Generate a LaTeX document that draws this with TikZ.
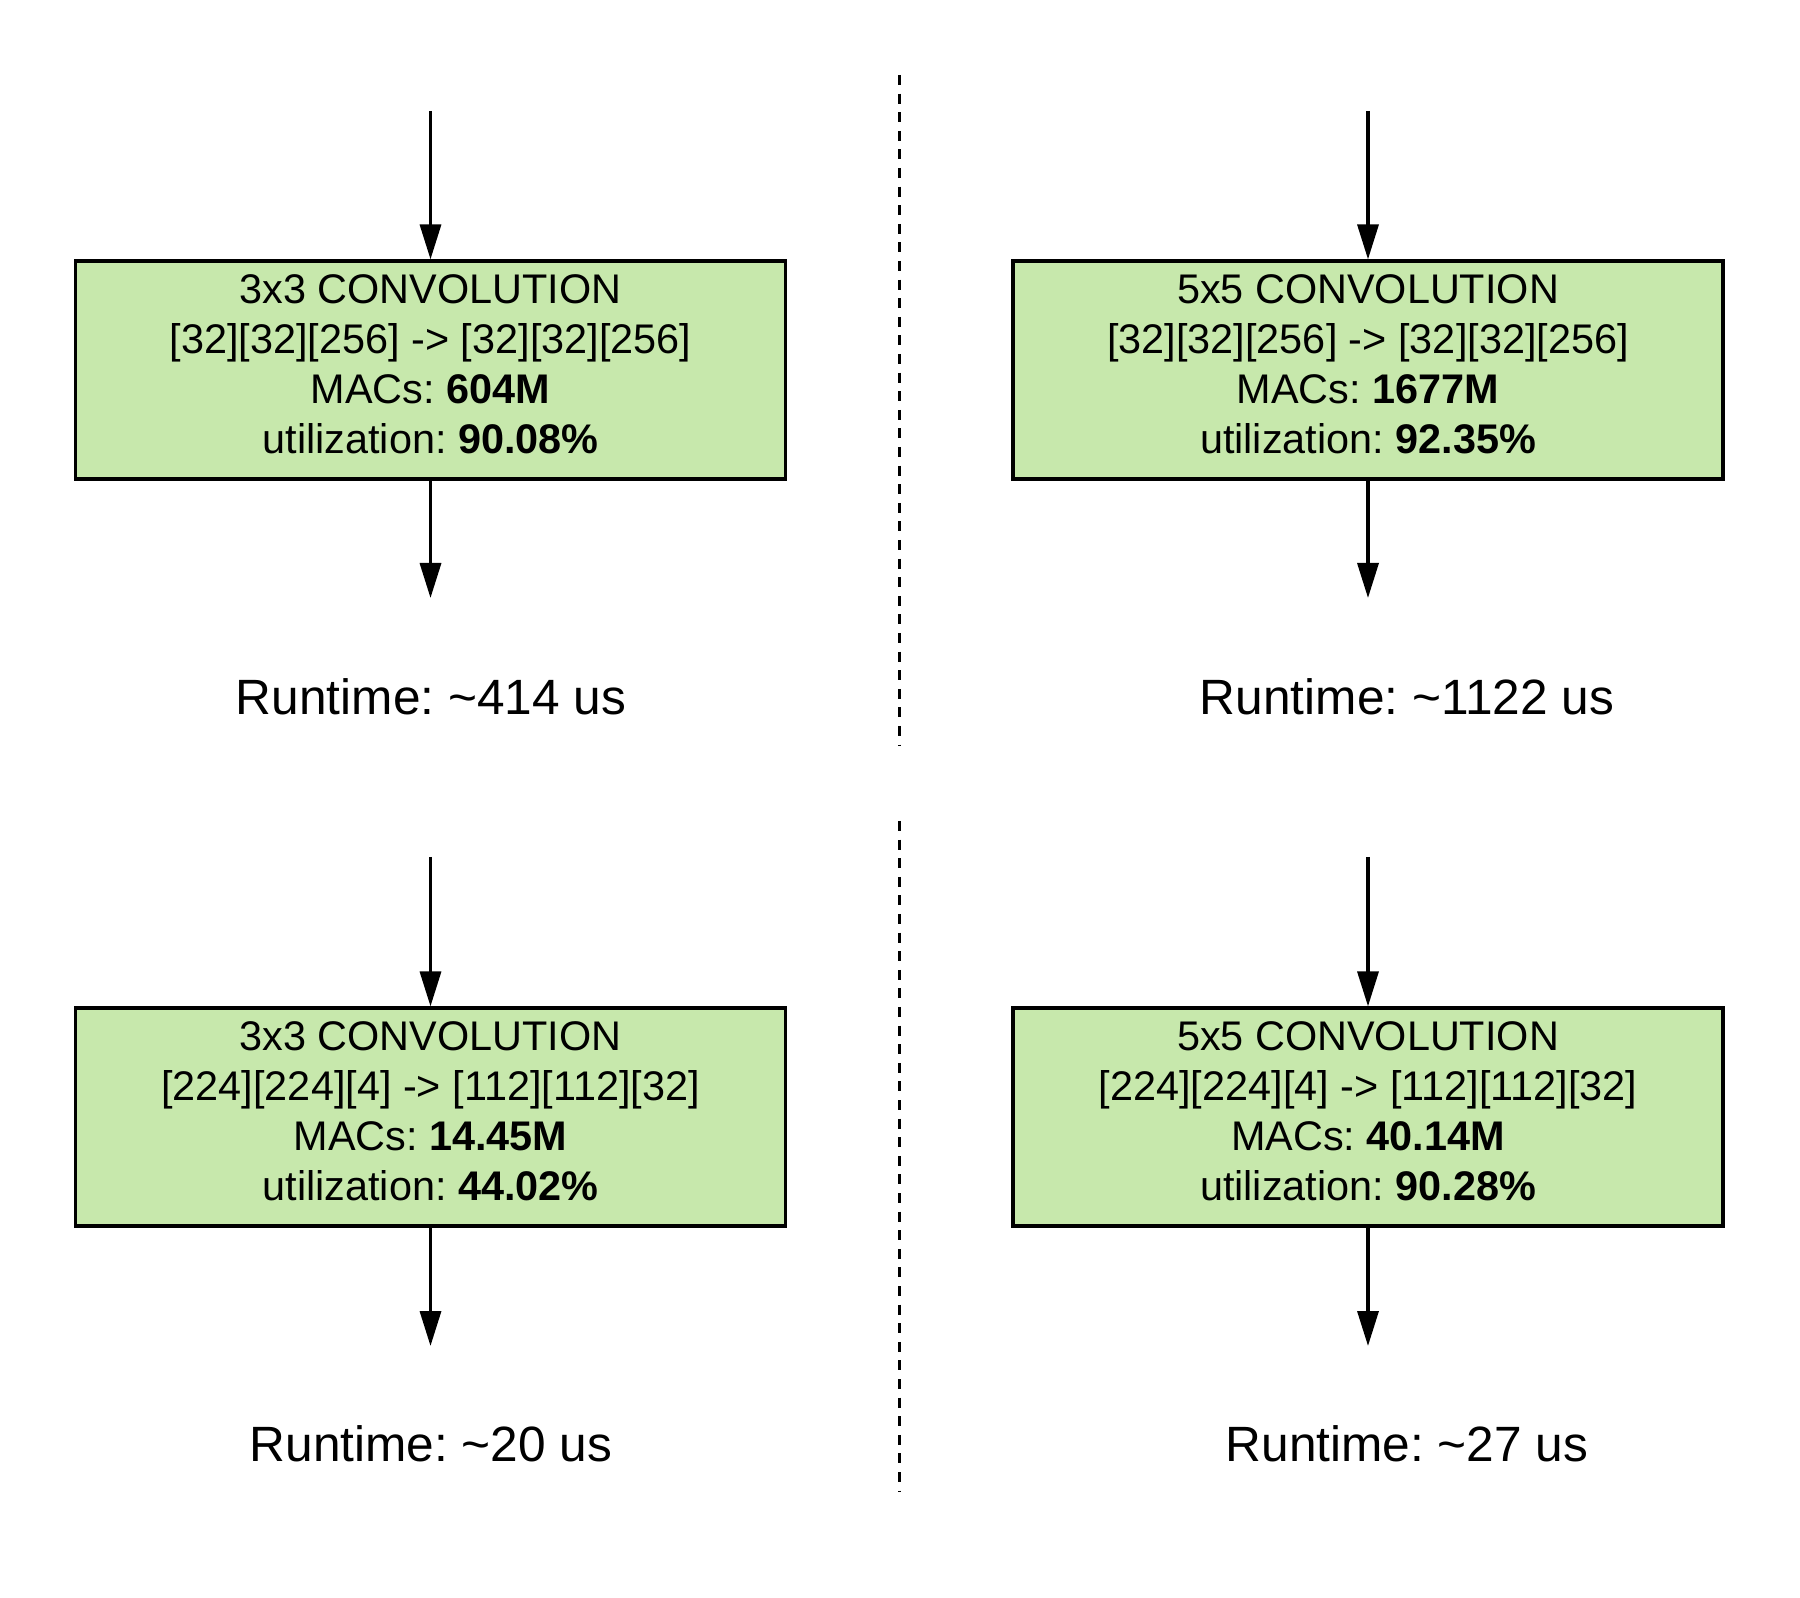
\documentclass[tikz,border=0pt]{standalone}
\usepackage{fontspec}
\setmainfont{Liberation Sans}
\usetikzlibrary{arrows.meta}
\definecolor{convgreen}{RGB}{199,232,172}

\begin{document}
\frenchspacing
\begin{tikzpicture}[x=0.5pt,y=0.5pt,yscale=-1,xscale=1,
  convbox/.style={draw=black, line width=1.6pt, fill=convgreen, minimum width=355pt, minimum height=109pt,
    inner sep=0pt, align=center, font=\fontsize{20.7}{25}\selectfont, execute at end node={\rule[-6pt]{0pt}{0pt}}},
  runtime/.style={anchor=base, font=\fontsize{24.8}{29}\selectfont},
  flow/.style={line width=1.7pt, -{Triangle[length=17.5pt,width=10.5pt]}},
  divider/.style={line width=1.5pt, dash pattern=on 5pt off 4.3pt}]
\useasboundingbox (0,0) rectangle (1800,1598);
%dividers between the two cases of each row
\draw [divider] (899,75) -- (899,746);
\draw [divider] (899,821) -- (899,1492);

%top row
\coordinate (in3a) at (430.5,111);
\coordinate (out3a) at (430.5,598);
\coordinate (in5a) at (1368,111);
\coordinate (out5a) at (1368,598);
\node [convbox] (conv3a) at (430.5,370) {3x3 CONVOLUTION\\{}[32][32][256] -> [32][32][256]\\ MACs: \textbf{604M}\\ utilization: \textbf{90.08\%}};
\node [convbox] (conv5a) at (1368,370) {5x5 CONVOLUTION\\{}[32][32][256] -> [32][32][256]\\ MACs: \textbf{1677M}\\ utilization: \textbf{92.35\%}};
\draw [flow] (in3a) -- (conv3a);
\draw [flow] (conv3a) -- (out3a);
\draw [flow] (in5a) -- (conv5a);
\draw [flow] (conv5a) -- (out5a);
\node [runtime] (rt3a) at (431,715) {Runtime: \textasciitilde414 us};
\node [runtime] (rt5a) at (1407,715) {Runtime: \textasciitilde1122 us};

%bottom row
\coordinate (in3b) at (430.5,857);
\coordinate (out3b) at (430.5,1346);
\coordinate (in5b) at (1368,857);
\coordinate (out5b) at (1368,1346);
\node [convbox] (conv3b) at (430.5,1117) {3x3 CONVOLUTION\\{}[224][224][4] -> [112][112][32]\\ MACs: \textbf{14.45M}\\ utilization: \textbf{44.02\%}};
\node [convbox] (conv5b) at (1368,1117) {5x5 CONVOLUTION\\{}[224][224][4] -> [112][112][32]\\ MACs: \textbf{40.14M}\\ utilization: \textbf{90.28\%}};
\draw [flow] (in3b) -- (conv3b);
\draw [flow] (conv3b) -- (out3b);
\draw [flow] (in5b) -- (conv5b);
\draw [flow] (conv5b) -- (out5b);
\node [runtime] (rt3b) at (431,1461) {Runtime: \textasciitilde20 us};
\node [runtime] (rt5b) at (1407,1461) {Runtime: \textasciitilde27 us};
\end{tikzpicture}
\end{document}
